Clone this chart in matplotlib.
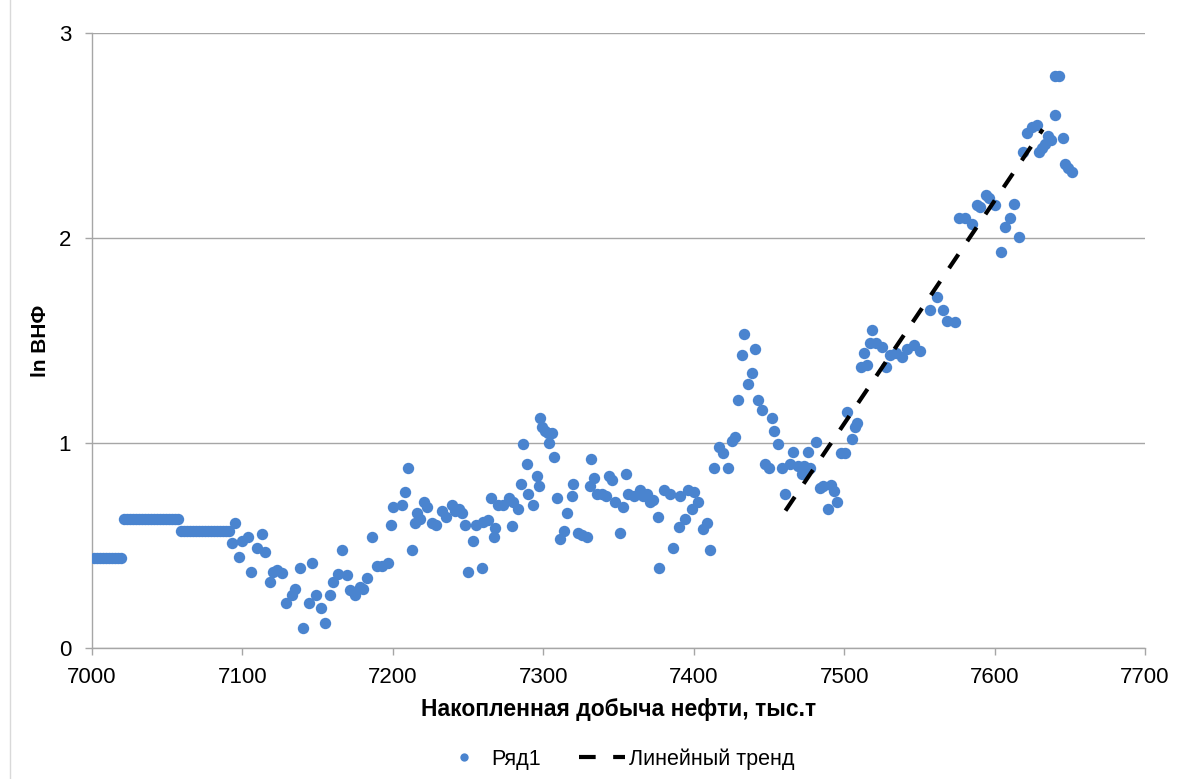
import matplotlib
matplotlib.use("Agg")
import matplotlib.pyplot as plt
from matplotlib.lines import Line2D

plt.rcParams['font.family'] = ['Liberation Sans', 'DejaVu Sans']

# --- data -------------------------------------------------------------
flat_x = [7001, 7003, 7005, 7007, 7009, 7011, 7013, 7015, 7017, 7019,
          7021, 7023, 7025, 7027, 7029, 7031, 7033, 7035, 7037, 7039,
          7041, 7043, 7045, 7047, 7049, 7051, 7053, 7055, 7057,
          7059, 7061, 7063, 7065, 7067, 7069, 7071, 7073, 7075, 7077,
          7079, 7081, 7083, 7085, 7087, 7089, 7091]
flat_y = [0.44] * 10 + [0.63] * 19 + [0.57] * 17

scatter_x = [7093, 7095, 7098, 7100, 7104, 7106, 7110, 7113, 7115, 7118,
             7120, 7123, 7126, 7129, 7133, 7135, 7138, 7140, 7144, 7146,
             7149, 7152, 7155, 7158, 7160, 7163.6, 7166, 7169.5, 7171.5, 7175,
             7178, 7180, 7183, 7186, 7189.5, 7193, 7196.8, 7199, 7200, 7206,
             7208, 7210, 7213, 7215, 7216, 7218, 7221, 7223, 7226, 7229,
             7233, 7235, 7239, 7241, 7244, 7246, 7248, 7250, 7253, 7255,
             7259, 7260, 7263, 7265, 7267, 7268, 7270, 7273, 7277, 7279,
             7280, 7283, 7285, 7286.5, 7289, 7290, 7293, 7296, 7297, 7298,
             7299, 7301, 7303, 7303.5, 7306, 7307, 7309, 7311, 7314, 7316,
             7319, 7320, 7323, 7326, 7329, 7331, 7332, 7334, 7336, 7339,
             7342, 7344, 7346, 7348, 7351, 7353, 7355, 7356, 7360, 7364,
             7366, 7369, 7371, 7373, 7376, 7377, 7380, 7384, 7386, 7390,
             7391, 7394, 7396, 7399, 7400, 7403, 7406, 7409, 7411, 7413.5,
             7417, 7419.5, 7423, 7425.5, 7427.5, 7429.5, 7432, 7433.5, 7436, 7439,
             7441, 7443, 7445.5, 7447.5, 7450, 7452, 7453.5, 7456, 7459, 7461,
             7464, 7466, 7469, 7472, 7473, 7476, 7477, 7481, 7484, 7486,
             7489, 7491, 7493, 7495, 7498, 7500.5, 7502, 7505, 7507, 7508.5,
             7511, 7513, 7515, 7517, 7518.6, 7521, 7525, 7528, 7530.6, 7534.6,
             7538.6, 7542, 7546.5, 7550.5, 7557, 7562, 7566, 7568.5, 7574, 7576.5,
             7580.5, 7585, 7588, 7590, 7594, 7596, 7600, 7604, 7607, 7610,
             7613, 7616, 7619, 7621.7, 7625, 7628, 7629.6, 7631.6, 7633.6, 7635.6,
             7637.6, 7640, 7640.5, 7643, 7645.6, 7647, 7649, 7651.6]
scatter_y = [0.51, 0.61, 0.445, 0.52, 0.54, 0.37, 0.49, 0.555, 0.47, 0.32,
             0.37, 0.38, 0.366, 0.22, 0.26, 0.29, 0.39, 0.10, 0.22, 0.415,
             0.26, 0.195, 0.12, 0.26, 0.32, 0.36, 0.48, 0.356, 0.283, 0.26,
             0.30, 0.29, 0.34, 0.54, 0.40, 0.40, 0.415, 0.60, 0.69, 0.70,
             0.76, 0.88, 0.48, 0.61, 0.66, 0.63, 0.71, 0.69, 0.61, 0.60,
             0.67, 0.64, 0.70, 0.67, 0.68, 0.66, 0.60, 0.37, 0.52, 0.60,
             0.39, 0.615, 0.625, 0.73, 0.54, 0.585, 0.70, 0.70, 0.73, 0.595,
             0.71, 0.68, 0.80, 0.995, 0.90, 0.75, 0.70, 0.84, 0.79, 1.12,
             1.08, 1.06, 1.05, 1.00, 1.05, 0.93, 0.73, 0.53, 0.57, 0.66,
             0.74, 0.80, 0.56, 0.55, 0.54, 0.79, 0.92, 0.83, 0.75, 0.75,
             0.74, 0.84, 0.82, 0.71, 0.56, 0.69, 0.85, 0.75, 0.74, 0.77,
             0.74, 0.75, 0.71, 0.72, 0.64, 0.39, 0.77, 0.75, 0.49, 0.59,
             0.74, 0.63, 0.77, 0.68, 0.76, 0.71, 0.58, 0.61, 0.48, 0.88,
             0.98, 0.95, 0.88, 1.01, 1.03, 1.21, 1.43, 1.53, 1.29, 1.34,
             1.46, 1.21, 1.16, 0.90, 0.88, 1.12, 1.06, 0.995, 0.88, 0.75,
             0.90, 0.955, 0.89, 0.85, 0.89, 0.955, 0.88, 1.005, 0.78, 0.79,
             0.68, 0.795, 0.765, 0.71, 0.95, 0.95, 1.15, 1.02, 1.08, 1.10,
             1.37, 1.44, 1.38, 1.49, 1.55, 1.49, 1.47, 1.37, 1.43, 1.44,
             1.42, 1.46, 1.48, 1.45, 1.65, 1.71, 1.65, 1.595, 1.59, 2.10,
             2.10, 2.07, 2.16, 2.15, 2.21, 2.195, 2.16, 1.93, 2.055, 2.10,
             2.165, 2.005, 2.42, 2.51, 2.54, 2.55, 2.42, 2.44, 2.46, 2.50,
             2.48, 2.60, 2.79, 2.79, 2.49, 2.36, 2.34, 2.32]

trend_x = [7461, 7632]
trend_y = [0.67, 2.53]

x_ticks = [7000, 7100, 7200, 7300, 7400, 7500, 7600, 7700]
y_ticks = [0, 1, 2, 3]

x_label = "Накопленная добыча нефти, тыс.т"
y_label = "ln ВНФ"
series_name = "Ряд1"
trend_name = "Линейный тренд"

# --- figure -----------------------------------------------------------
W, H = 1178, 779
fig = plt.figure(figsize=(W / 100, H / 100), dpi=100)
ax = fig.add_axes([92 / W, 1 - 648 / H, (1145 - 92) / W, (648 - 33) / H])

blue = '#4A84CF'
grid_c = '#A6A6A6'

all_x = flat_x + scatter_x
all_y = flat_y + scatter_y
ax.plot(all_x, all_y, linestyle='none', marker='o', markersize=8.2,
        markerfacecolor=blue, markeredgecolor=blue, markeredgewidth=0,
        label=series_name, zorder=3)
ax.plot(trend_x, trend_y, color='black', linewidth=3, dashes=(4.0, 3.8),
        label=trend_name, zorder=4, dash_capstyle='butt')

ax.set_xlim(7000, 7700)
ax.set_ylim(0, 3)
ax.set_xticks(x_ticks)
ax.set_yticks(y_ticks)
ax.set_xticklabels([str(v) for v in x_ticks])
ax.set_yticklabels([str(v) for v in y_ticks])

ax.yaxis.grid(True, color=grid_c, linewidth=1)
ax.set_axisbelow(True)
for s in ['top', 'right']:
    ax.spines[s].set_visible(False)
for s in ['left', 'bottom']:
    ax.spines[s].set_color(grid_c)
    ax.spines[s].set_linewidth(1)
ax.tick_params(axis='both', direction='out', length=5, width=1, color=grid_c,
               labelsize=16, labelcolor='black')
ax.tick_params(axis='x', pad=9)
ax.tick_params(axis='y', pad=10)

ax.set_xlabel(x_label, fontsize=16.5, fontweight='bold', labelpad=7)
ax.set_ylabel(y_label, fontsize=15, fontweight='bold', labelpad=6)

handles = [Line2D([], [], linestyle='none', marker='o', markersize=6,
                  markerfacecolor=blue, markeredgewidth=0),
           Line2D([], [], color='black', linewidth=3, dashes=(4.0, 4.2),
                  dash_capstyle='butt')]
fig.legend(handles, [series_name, trend_name], loc='lower center',
           bbox_to_anchor=(618 / W, -0.013), ncol=2, frameon=False,
           fontsize=15.5, handlelength=2.1, columnspacing=1.8, handletextpad=0.2)

# thin chart-area border line at the far left
fig.add_artist(Line2D([10 / W, 10 / W], [0, 1], color='#D9D9D9', linewidth=1,
                      transform=fig.transFigure))

fig.savefig('out.png', dpi=100)
